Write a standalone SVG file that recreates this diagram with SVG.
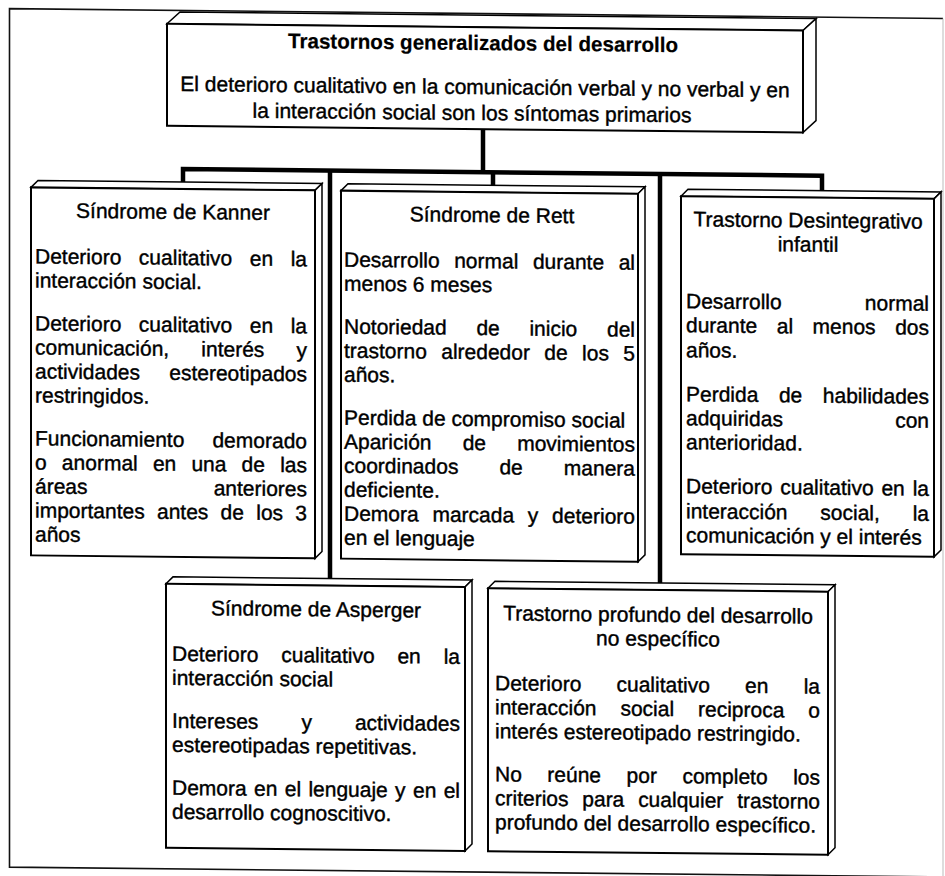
<svg xmlns="http://www.w3.org/2000/svg" width="945" height="876" viewBox="0 0 945 876">
<style>
  .front{fill:#fff;stroke:#000;stroke-width:2}
  .face{fill:#fff;stroke:#000;stroke-width:1.5;stroke-linejoin:miter}
  .conn{fill:none;stroke:#000;stroke-width:4.5;stroke-linejoin:miter}
  .frame{fill:none;stroke:#111;stroke-width:1.6}
  text{font-family:"Liberation Sans",Arial,sans-serif;font-size:21px;fill:#000;stroke:#000;stroke-width:0.4}
  .c{text-anchor:middle}
  .b{font-weight:bold;stroke-width:0.2}
</style>
<rect width="945" height="876" fill="#fff"/>
<g transform="translate(0,-4.94) skewY(0.6)">
  <path class="frame" d="M943,13.5 H9.5 V872 H943"/>
  <path d="M943,13.5 V872" fill="none" stroke="#bbb" stroke-width="1"/>

  <g id="connectors">
    <path class="conn" d="M483,129 V172"/>
    <path class="conn" d="M183,186 V172 H822 V188"/>
    <path class="conn" d="M493,172 V186"/>
    <path class="conn" d="M330,172 V581"/>
    <path class="conn" d="M660,172 V582"/>
  </g>

  <g id="root">
    <polygon class="face" points="167,27 180,15 816,15 803,27"/>
    <polygon class="face" points="803,27 816,15 816,117 803,129"/>
    <rect class="front" x="167" y="27" width="636" height="102"/>
    <text class="c b" x="483" y="50" textLength="390" lengthAdjust="spacingAndGlyphs">Trastornos generalizados del desarrollo</text>
    <text class="c" x="485" y="94">El deterioro cualitativo en la comunicación verbal y no verbal y en</text>
    <text class="c" x="472" y="120">la interacción social son los síntomas primarios</text>
  </g>

  <g id="kanner">
    <polygon class="face" points="31,192 38,185 322,185 315,192"/>
    <polygon class="face" points="315,192 322,185 322,553 315,560"/>
    <rect class="front" x="31" y="192" width="284" height="368"/>
    <text class="c" x="173" y="222">Síndrome de Kanner</text>
    <text x="35" y="268" textLength="272" lengthAdjust="spacing" word-spacing="11.7">Deterioro cualitativo en la</text>
    <text x="35" y="292">interacción social.</text>
    <text x="35" y="335" textLength="272" lengthAdjust="spacing" word-spacing="11.7">Deterioro cualitativo en la</text>
    <text x="35" y="359" textLength="272" lengthAdjust="spacing" word-spacing="26.3">comunicación, interés y</text>
    <text x="35" y="383" textLength="272" lengthAdjust="spacing" word-spacing="23.4">actividades estereotipados</text>
    <text x="35" y="407">restringidos.</text>
    <text x="35" y="450" textLength="272" lengthAdjust="spacing" word-spacing="22.2">Funcionamiento demorado</text>
    <text x="35" y="474" textLength="272" lengthAdjust="spacing" word-spacing="9.3">o anormal en una de las</text>
    <text x="35" y="498" textLength="272" lengthAdjust="spacing" word-spacing="120.3">áreas anteriores</text>
    <text x="35" y="522" textLength="272" lengthAdjust="spacing" word-spacing="6.4">importantes antes de los 3</text>
    <text x="35" y="546">años</text>
  </g>

  <g id="rett">
    <polygon class="face" points="341,192 348,185 645,185 638,192"/>
    <polygon class="face" points="638,192 645,185 645,553 638,560"/>
    <rect class="front" x="341" y="192" width="297" height="368"/>
    <text class="c" x="492" y="222">Síndrome de Rett</text>
    <text x="344" y="268" textLength="291" lengthAdjust="spacing" word-spacing="8.7">Desarrollo normal durante al</text>
    <text x="344" y="292">menos 6 meses</text>
    <text x="344" y="335" textLength="291" lengthAdjust="spacing" word-spacing="23.9">Notoriedad de inicio del</text>
    <text x="344" y="359" textLength="291" lengthAdjust="spacing" word-spacing="8.55">trastorno alrededor de los 5</text>
    <text x="344" y="383">años.</text>
    <text x="344" y="426">Perdida de compromiso social</text>
    <text x="344" y="450" textLength="291" lengthAdjust="spacing" word-spacing="25.3">Aparición de movimientos</text>
    <text x="344" y="474" textLength="291" lengthAdjust="spacing" word-spacing="35.2">coordinados de manera</text>
    <text x="344" y="498">deficiente.</text>
    <text x="344" y="522" textLength="291" lengthAdjust="spacing" word-spacing="7.9">Demora marcada y deterioro</text>
    <text x="344" y="546">en el lenguaje</text>
  </g>

  <g id="desintegrativo">
    <polygon class="face" points="681,194 688,187 941,187 934,194"/>
    <polygon class="face" points="934,194 941,187 941,545 934,552"/>
    <rect class="front" x="681" y="194" width="253" height="358"/>
    <text class="c" x="808" y="224">Trastorno Desintegrativo</text>
    <text class="c" x="808" y="248">infantil</text>
    <text x="686" y="306" textLength="243" lengthAdjust="spacing" word-spacing="77.3">Desarrollo normal</text>
    <text x="686" y="330" textLength="243" lengthAdjust="spacing" word-spacing="13.7">durante al menos dos</text>
    <text x="686" y="355">años.</text>
    <text x="686" y="399" textLength="243" lengthAdjust="spacing" word-spacing="14.7">Perdida de habilidades</text>
    <text x="686" y="423" textLength="243" lengthAdjust="spacing" word-spacing="106.4">adquiridas con</text>
    <text x="686" y="447">anterioridad.</text>
    <text x="686" y="491" textLength="243" lengthAdjust="spacing" word-spacing="2">Deterioro cualitativo en la</text>
    <text x="686" y="516" textLength="243" lengthAdjust="spacing" word-spacing="27">interacción social, la</text>
    <text x="686" y="540">comunicación y el interés</text>
  </g>

  <g id="asperger">
    <polygon class="face" points="166,587 173,580 472,580 465,587"/>
    <polygon class="face" points="465,587 472,580 472,844 465,851"/>
    <rect class="front" x="166" y="587" width="299" height="264"/>
    <text class="c" x="316" y="618">Síndrome de Asperger</text>
    <text x="172" y="664" textLength="288" lengthAdjust="spacing" word-spacing="17">Deterioro cualitativo en la</text>
    <text x="172" y="688">interacción social</text>
    <text x="172" y="731" textLength="288" lengthAdjust="spacing" word-spacing="37.2">Intereses y actividades</text>
    <text x="172" y="755">estereotipadas repetitivas.</text>
    <text x="172" y="798" textLength="288" lengthAdjust="spacing" word-spacing="1.5">Demora en el lenguaje y en el</text>
    <text x="172" y="822">desarrollo cognoscitivo.</text>
  </g>

  <g id="profundo">
    <polygon class="face" points="488,588 495,581 835,581 828,588"/>
    <polygon class="face" points="828,588 835,581 835,844 828,851"/>
    <rect class="front" x="488" y="588" width="340" height="263"/>
    <text class="c" x="658" y="620">Trastorno profundo del desarrollo</text>
    <text class="c" x="658" y="644">no específico</text>
    <text x="495" y="690" textLength="325" lengthAdjust="spacing" word-spacing="29.4">Deterioro cualitativo en la</text>
    <text x="495" y="714" textLength="325" lengthAdjust="spacing" word-spacing="18.1">interacción social reciproca o</text>
    <text x="495" y="738">interés estereotipado restringido.</text>
    <text x="495" y="781" textLength="325" lengthAdjust="spacing" word-spacing="19.7">No reúne por completo los</text>
    <text x="495" y="805" textLength="325" lengthAdjust="spacing" word-spacing="8">criterios para cualquier trastorno</text>
    <text x="495" y="829">profundo del desarrollo específico.</text>
  </g>
</g>
</svg>
